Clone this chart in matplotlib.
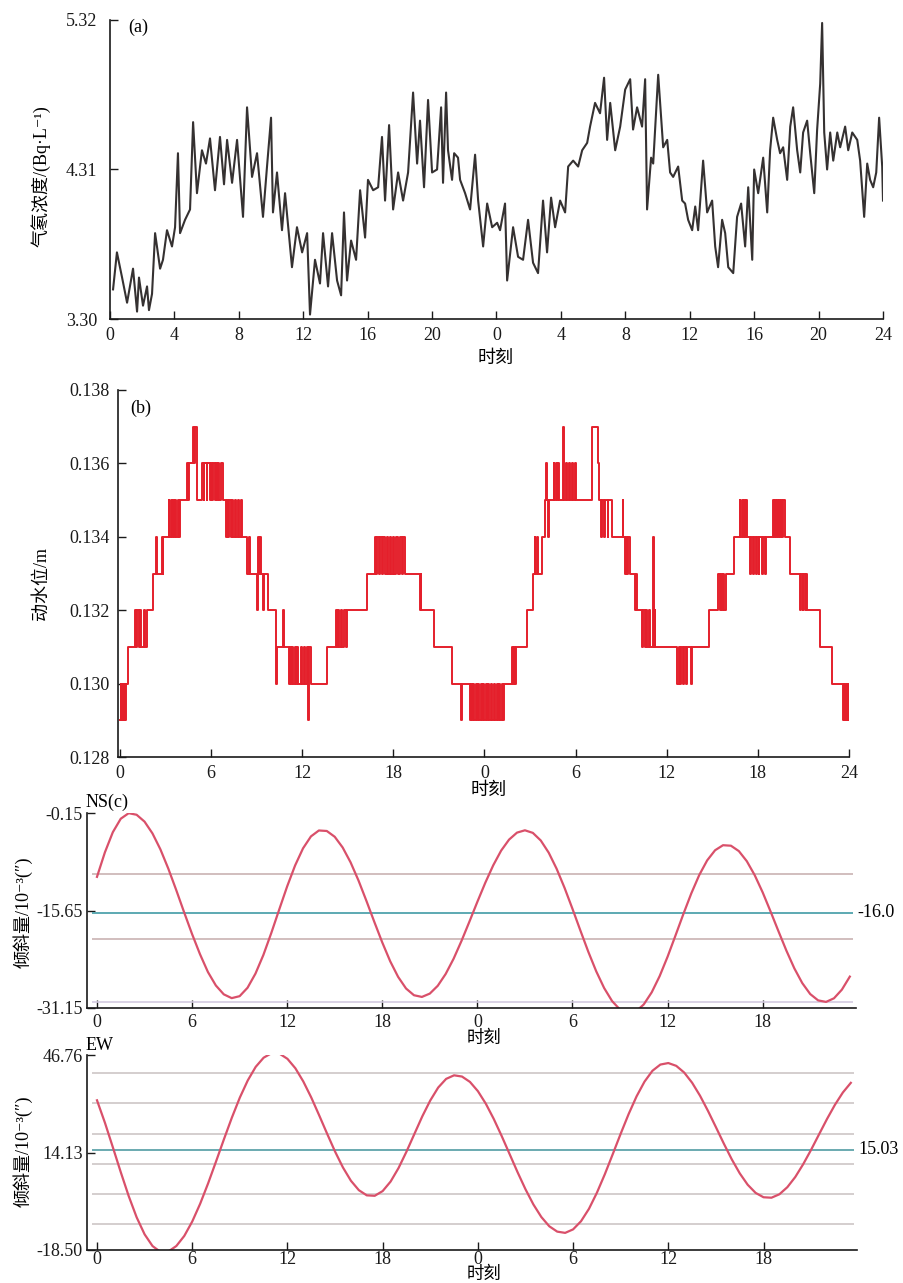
import numpy as np
import matplotlib.pyplot as plt

plt.rcParams['font.family'] = ['Liberation Serif', 'Noto Sans CJK SC', 'DejaVu Serif']
plt.rcParams['axes.unicode_minus'] = False

# (a) 气氡浓度, hours counted over two days
radon_h = [0.19, 0.43, 0.75, 1.06, 1.43, 1.68, 1.80, 2.05, 2.30, 2.42,
           2.61, 2.80, 3.11, 3.29, 3.54, 3.85, 4.04, 4.22, 4.35, 4.66,
           4.97, 5.16, 5.40, 5.71, 5.96, 6.21, 6.52, 6.83, 7.08, 7.27,
           7.58, 7.89, 8.26, 8.51, 8.82, 9.13, 9.50, 9.75, 10.00, 10.12,
           10.37, 10.68, 10.87, 11.30, 11.61, 11.93, 12.24, 12.42, 12.73, 13.04,
           13.23, 13.54, 13.79, 14.10, 14.35, 14.53, 14.72, 14.97, 15.28, 15.53,
           15.84, 16.02, 16.34, 16.65, 16.89, 17.08, 17.33, 17.58, 17.89, 18.20,
           18.51, 18.82, 19.07, 19.25, 19.50, 19.75, 20.00, 20.31, 20.56, 20.68,
           20.87, 20.99, 21.24, 21.37, 21.61, 21.74, 22.05, 22.36, 22.67, 22.86,
           23.17, 23.42, 23.73, 24.04, 24.22, 24.53, 24.66, 25.03, 25.34, 25.65,
           25.96, 26.27, 26.58, 26.89, 27.14, 27.39, 27.64, 27.95, 28.26, 28.45,
           28.76, 29.07, 29.32, 29.63, 29.81, 30.12, 30.43, 30.68, 30.87, 31.06,
           31.37, 31.68, 31.99, 32.30, 32.48, 32.73, 33.04, 33.23, 33.35, 33.60,
           33.73, 34.04, 34.35, 34.60, 34.78, 34.97, 35.28, 35.53, 35.71, 35.90,
           36.15, 36.34, 36.52, 36.83, 37.08, 37.39, 37.58, 37.76, 38.01, 38.20,
           38.39, 38.70, 38.94, 39.19, 39.44, 39.63, 39.88, 40.00, 40.25, 40.56,
           40.81, 40.99, 41.18, 41.43, 41.61, 41.80, 42.05, 42.24, 42.42, 42.67,
           42.86, 43.04, 43.29, 43.48, 43.73, 43.91, 44.10, 44.22, 44.35, 44.53,
           44.72, 44.91, 45.16, 45.34, 45.65, 45.84, 46.09, 46.40, 46.58, 46.83,
           47.02, 47.20, 47.39, 47.58, 47.76, 47.95, 48.00]
radon_v = [3.50, 3.75, 3.58, 3.41, 3.64, 3.35, 3.58, 3.39, 3.52, 3.36,
           3.47, 3.88, 3.64, 3.70, 3.90, 3.79, 3.92, 4.42, 3.88, 3.97,
           4.04, 4.63, 4.15, 4.44, 4.35, 4.52, 4.17, 4.53, 4.21, 4.51,
           4.22, 4.51, 3.99, 4.73, 4.26, 4.42, 3.99, 4.33, 4.66, 4.02,
           4.29, 3.90, 4.15, 3.65, 3.92, 3.75, 3.88, 3.33, 3.70, 3.54,
           3.88, 3.52, 3.88, 3.56, 3.46, 4.02, 3.56, 3.83, 3.70, 4.17,
           3.85, 4.24, 4.17, 4.19, 4.53, 4.10, 4.61, 4.04, 4.29, 4.10,
           4.29, 4.83, 4.35, 4.64, 4.19, 4.78, 4.29, 4.31, 4.73, 4.22,
           4.83, 4.44, 4.24, 4.42, 4.39, 4.24, 4.15, 4.04, 4.41, 4.10,
           3.79, 4.08, 3.92, 3.95, 3.90, 4.08, 3.56, 3.92, 3.72, 3.70,
           3.97, 3.68, 3.61, 4.10, 3.75, 4.12, 3.92, 4.10, 4.02, 4.33,
           4.37, 4.33, 4.44, 4.49, 4.60, 4.76, 4.69, 4.93, 4.51, 4.76,
           4.44, 4.60, 4.85, 4.92, 4.58, 4.73, 4.60, 4.92, 4.04, 4.39,
           4.35, 4.95, 4.46, 4.51, 4.29, 4.26, 4.33, 4.10, 4.08, 3.97,
           3.90, 4.06, 3.90, 4.37, 4.02, 4.10, 3.79, 3.65, 3.97, 3.88,
           3.65, 3.61, 3.99, 4.08, 3.79, 4.19, 3.70, 4.31, 4.15, 4.39,
           4.02, 4.44, 4.66, 4.51, 4.42, 4.46, 4.24, 4.60, 4.73, 4.44,
           4.29, 4.56, 4.64, 4.42, 4.15, 4.58, 4.89, 5.30, 4.56, 4.31,
           4.56, 4.37, 4.56, 4.46, 4.60, 4.44, 4.56, 4.51, 4.37, 3.99,
           4.35, 4.24, 4.19, 4.29, 4.66, 4.33, 4.10]
a_ticklabels = ['0', '4', '8', '12', '16', '20', '0', '4', '8', '12', '16', '20', '24']

# (b) 动水位, level changes (hour, level in mm)
water_h = [0.00, 0.05, 0.10, 0.18, 0.22, 0.30, 0.36, 0.42, 0.55, 1.00,
           1.05, 1.15, 1.22, 1.35, 1.40, 1.55, 1.62, 1.80, 2.20, 2.40,
           2.45, 2.75, 2.80, 2.85, 3.20, 3.25, 3.35, 3.42, 3.50, 3.55,
           3.65, 3.72, 3.80, 3.88, 3.95, 4.40, 4.50, 4.55, 4.80, 4.85,
           4.95, 5.05, 5.40, 5.50, 5.55, 5.70, 5.75, 5.90, 5.98, 6.05,
           6.12, 6.25, 6.30, 6.40, 6.45, 6.55, 6.62, 6.80, 6.95, 7.05,
           7.12, 7.20, 7.28, 7.35, 7.45, 7.55, 7.65, 7.75, 7.85, 7.95,
           8.05, 8.35, 8.50, 8.55, 9.00, 9.10, 9.15, 9.20, 9.30, 9.40,
           9.45, 9.75, 10.30, 10.33, 10.75, 10.80, 11.10, 11.18, 11.25, 11.32,
           11.40, 11.50, 11.58, 11.68, 11.75, 11.90, 12.00, 12.10, 12.20, 12.30,
           12.38, 12.45, 12.55, 13.60, 14.20, 14.28, 14.38, 14.45, 14.55, 14.65,
           14.72, 14.85, 14.95, 16.25, 16.80, 16.88, 16.95, 17.05, 17.15, 17.22,
           17.35, 17.42, 17.55, 17.62, 17.75, 17.85, 17.95, 18.05, 18.20, 18.30,
           18.45, 18.55, 18.65, 18.75, 19.75, 19.80, 19.85, 20.70, 21.85, 22.45,
           22.55, 23.05, 23.12, 23.18, 23.25, 23.32, 23.42, 23.48, 23.58, 23.65,
           23.75, 23.82, 23.92, 24.00, 24.08, 24.15, 24.25, 24.32, 24.42, 24.50,
           24.60, 24.68, 24.80, 24.88, 24.98, 25.05, 25.15, 25.22, 25.30, 25.80,
           25.85, 25.92, 26.00, 26.10, 26.80, 27.20, 27.30, 27.35, 27.45, 27.50,
           27.80, 28.00, 28.05, 28.10, 28.20, 28.25, 28.55, 28.60, 28.70, 28.75,
           28.85, 28.90, 29.15, 29.22, 29.35, 29.42, 29.55, 29.60, 29.75, 29.80,
           29.95, 30.00, 31.10, 31.50, 31.55, 31.70, 31.75, 31.90, 31.95, 32.10,
           32.15, 32.40, 33.10, 33.15, 33.25, 33.30, 33.40, 33.45, 33.55, 33.90,
           34.00, 34.05, 34.40, 34.45, 34.55, 34.62, 34.70, 34.80, 34.88, 35.08,
           35.13, 35.20, 35.25, 36.70, 36.78, 36.85, 36.95, 37.05, 37.15, 37.25,
           37.32, 37.60, 37.65, 38.80, 39.40, 39.48, 39.55, 39.62, 39.72, 39.80,
           39.90, 40.40, 40.80, 40.85, 40.95, 41.00, 41.10, 41.15, 41.25, 41.30,
           41.50, 41.55, 41.65, 41.72, 41.85, 41.92, 42.05, 42.10, 42.25, 42.35,
           42.45, 42.55, 43.00, 43.05, 43.12, 43.18, 43.25, 43.30, 43.38, 43.45,
           43.52, 43.60, 43.68, 43.80, 44.10, 44.80, 44.85, 44.95, 45.00, 45.10,
           45.15, 45.25, 46.10, 46.90, 47.60, 47.65, 47.70, 47.75, 47.80, 47.85,
           47.90, 47.95, 48.00]
water_mm = [129, 130, 129, 130, 129, 130, 129, 130, 131, 132,
            131, 132, 131, 132, 131, 132, 131, 132, 133, 134,
            133, 134, 133, 134, 135, 134, 135, 134, 135, 134,
            135, 134, 135, 134, 135, 136, 135, 136, 137, 136,
            137, 135, 136, 135, 136, 135, 136, 135, 136, 135,
            136, 135, 136, 135, 136, 135, 136, 135, 134, 135,
            134, 135, 134, 135, 134, 135, 134, 135, 134, 135,
            134, 133, 134, 133, 132, 134, 133, 134, 133, 132,
            133, 132, 130, 131, 132, 131, 130, 131, 130, 131,
            130, 131, 130, 131, 130, 131, 130, 131, 130, 131,
            129, 131, 130, 131, 132, 131, 132, 131, 132, 131,
            132, 131, 132, 133, 134, 133, 134, 133, 134, 133,
            134, 133, 134, 133, 134, 133, 134, 133, 134, 133,
            134, 133, 134, 133, 132, 133, 132, 131, 130, 129,
            130, 129, 130, 129, 130, 129, 130, 129, 130, 129,
            130, 129, 130, 129, 130, 129, 130, 129, 130, 129,
            130, 129, 130, 129, 130, 129, 130, 129, 130, 131,
            130, 131, 130, 131, 132, 133, 134, 133, 134, 133,
            134, 135, 136, 135, 134, 135, 136, 135, 136, 135,
            136, 135, 137, 135, 136, 135, 136, 135, 136, 135,
            136, 135, 137, 136, 135, 134, 135, 134, 135, 134,
            135, 134, 135, 134, 133, 134, 133, 134, 133, 132,
            133, 132, 131, 132, 131, 132, 131, 132, 131, 134,
            131, 132, 131, 130, 131, 130, 131, 130, 131, 130,
            131, 130, 131, 132, 133, 132, 133, 132, 133, 132,
            133, 134, 135, 134, 135, 134, 135, 134, 135, 134,
            133, 134, 133, 134, 133, 134, 133, 134, 133, 134,
            133, 134, 135, 134, 135, 134, 135, 134, 135, 134,
            135, 134, 135, 134, 133, 132, 133, 132, 133, 132,
            133, 132, 131, 130, 129, 130, 129, 130, 129, 130,
            129, 130, 129]
b_ticklabels = ['0', '6', '12', '18', '0', '6', '12', '18', '24']

# (c) 倾斜量 NS / EW, read every half hour
tilt_h = np.arange(0, 48, 0.5)
ns_tilt = [-10.3, -6.4, -3.2, -1.06, -0.18,
           -0.43, -1.52, -3.39, -5.92, -8.99, -12.4, -15.95, -19.4, -22.6, -25.43, -27.57, -28.98, -29.58,
           -29.27, -27.93, -25.68, -22.71, -19.21, -15.48, -11.81, -8.49, -5.77, -3.87, -2.93,
           -3.01, -3.93, -5.63, -7.99, -10.88, -14.12, -17.47, -20.73, -23.72, -26.2, -28.05, -29.12,
           -29.39, -28.86, -27.62, -25.74, -23.32, -20.48, -17.41, -14.27, -11.24, -8.47, -6.13, -4.38, -3.27, -2.9,
           -3.31, -4.52, -6.45, -9.01, -12.04, -15.38, -18.83, -22.21, -25.32, -27.98, -30.05, -31.4, -31.98,
           -31.72, -30.58, -28.66, -26.09, -23.01, -19.63, -16.2, -12.92, -10.01, -7.68, -6.07, -5.27,
           -5.35, -6.21, -7.81, -10.04, -12.76, -15.81, -18.96, -22.04, -24.85, -27.19, -28.93, -29.94,
           -30.18, -29.61, -28.23, -26.16]
ew_tilt = [31.6, 24.09, 15.86, 7.51, -0.49, -7.58, -13.26, -17.18, -19.14,
           -18.99, -17.16, -13.79, -8.98, -3.03, 3.78, 11.11, 18.58, 25.82, 32.5, 38.25, 42.79, 45.86, 47.37,
           47.21, 45.48, 42.32, 37.9, 32.55, 26.57, 20.43, 14.45, 9.1, 4.68, 1.52, -0.21,
           -0.36, 1.22, 4.4, 8.92, 14.4, 20.34, 26.25, 31.54, 35.87, 38.77, 39.96,
           39.55, 37.76, 34.67, 30.47, 25.37, 19.65, 13.6, 7.55, 1.83, -3.27, -7.47, -10.56, -12.35,
           -12.77, -11.6, -8.87, -4.72, 0.66, 6.86, 13.59, 20.43, 27.0, 32.92, 37.84, 41.48, 43.56,
           44.07, 43.13, 40.89, 37.48, 33.12, 28.05, 22.61, 17.09, 11.83, 7.17, 3.35, 0.62, -0.85,
           -1.0, 0.15, 2.52, 5.93, 10.22, 15.06, 20.22, 25.34, 30.1, 34.22, 37.44]
ns_ref = [-9.85, -20.2]
ns_low = -30.2
ns_mean = -16.0
ew_ref = [40.7, 30.6, 20.3, 10.4, 0.2, -9.8]
ew_mean = 15.03
c_ticklabels = ['0', '6', '12', '18', '0', '6', '12', '18']

W, H = 904, 1283
fig = plt.figure(figsize=(W / 100, H / 100), dpi=100)


def box(l, t, r, b):
    return [l / W, 1 - b / H, (r - l) / W, (b - t) / H]


def clean(ax, pad_x, pad_y):
    ax.spines['top'].set_visible(False)
    ax.spines['right'].set_visible(False)
    for s in ['left', 'bottom']:
        ax.spines[s].set_linewidth(1.2)
        ax.spines[s].set_color('#1a1a1a')
    ax.tick_params(direction='in', length=6, width=1.0, labelsize=13, colors='#1a1a1a')
    ax.tick_params(axis='x', pad=pad_x)
    ax.tick_params(axis='y', pad=pad_y)
    ax.set_facecolor('none')


def label(x, y, s, size=13, **kw):
    fig.text(x / W, 1 - y / H, s, fontsize=size, ha='center', va='center', **kw)


# (a)
ax_a = fig.add_axes(box(110, 20, 883, 319))
ax_a.plot(radon_h, radon_v, color='#353131', lw=1.5)
ax_a.set_xlim(0, 48)
ax_a.set_ylim(3.30, 5.32)
ax_a.set_xticks(np.arange(0, 49, 4))
ax_a.set_xticklabels(a_ticklabels)
ax_a.set_yticks([3.30, 4.31, 5.32])
ax_a.set_yticklabels(['3.30', '4.31', '5.32'])
clean(ax_a, 6, 9)
label(41, 176, '气氡浓度/(Bq·L⁻¹)', rotation=90)
label(496, 358, '时刻')
fig.text(128 / W, 1 - 27 / H, '(a)', fontsize=13, ha='left', va='center')

# (b)
ax_b = fig.add_axes(box(118, 390, 849, 757))
ax_b.plot(water_h, np.array(water_mm) / 1000, drawstyle='steps-post', color='#e41f2b', lw=1.4)
ax_b.set_xlim(-0.13, 48)
ax_b.set_ylim(0.128, 0.138)
ax_b.set_xticks(np.arange(0, 49, 6))
ax_b.set_xticklabels(b_ticklabels)
b_yt = np.arange(0.128, 0.1385, 0.002)
ax_b.set_yticks(b_yt)
ax_b.set_yticklabels(['%.3f' % v for v in b_yt])
clean(ax_b, 6, 6)
label(41, 583, '动水位/m', rotation=90)
label(489, 790, '时刻')
fig.text(130 / W, 1 - 408 / H, '(b)', fontsize=13, ha='left', va='center')

# (c) NS
ax_ns = fig.add_axes(box(87, 813, 856, 1008))
ax_ns.hlines(ns_ref, -0.3, 47.7, color='#c9b3b3', lw=1.2)
ax_ns.hlines(ns_low, -0.3, 47.7, color='#d3cbe0', lw=1.2)
ax_ns.hlines(ns_mean, -0.3, 47.7, color='#5ca9b2', lw=1.4)
ax_ns.plot(tilt_h, ns_tilt, color='#d9506a', lw=1.6)
ax_ns.set_xlim(-0.63, 47.89)
ax_ns.set_ylim(-31.15, -0.15)
ax_ns.set_xticks(np.arange(0, 43, 6))
ax_ns.set_xticklabels(c_ticklabels)
ax_ns.set_yticks([-31.15, -15.65, -0.15])
ax_ns.set_yticklabels(['-31.15', '-15.65', '-0.15'])
clean(ax_ns, 4, 3)
ax_ns.text(48.0, ns_mean, '-16.0', fontsize=13, ha='left', va='center', clip_on=False)
label(23, 912, '倾斜量/10⁻³(″)', rotation=90)
label(484, 1039, '时刻', size=12.5)
fig.text(86 / W, 1 - 802 / H, 'NS(c)', fontsize=13, ha='left', va='center')

# (c) EW
ax_ew = fig.add_axes(box(87, 1055, 857, 1250))
ax_ew.hlines(ew_ref, -0.3, 47.7, color='#cdc6c6', lw=1.2)
ax_ew.hlines(ew_mean, -0.3, 47.7, color='#6aaab0', lw=1.4)
ax_ew.plot(tilt_h, ew_tilt, color='#d9506a', lw=1.6)
ax_ew.set_xlim(-0.63, 47.89)
ax_ew.set_ylim(-18.50, 46.76)
ax_ew.set_xticks(np.arange(0, 43, 6))
ax_ew.set_xticklabels(c_ticklabels)
ax_ew.set_yticks([-18.50, 14.13, 46.76])
ax_ew.set_yticklabels(['-18.50', '14.13', '46.76'])
clean(ax_ew, 1, 3)
ax_ew.text(48.0, ew_mean, '15.03', fontsize=13, ha='left', va='center', clip_on=False)
label(23, 1151, '倾斜量/10⁻³(″)', rotation=90)
label(484, 1275, '时刻', size=12.5)
fig.text(86 / W, 1 - 1046 / H, 'EW', fontsize=13, ha='left', va='center')

fig.savefig('out.png', dpi=100)
